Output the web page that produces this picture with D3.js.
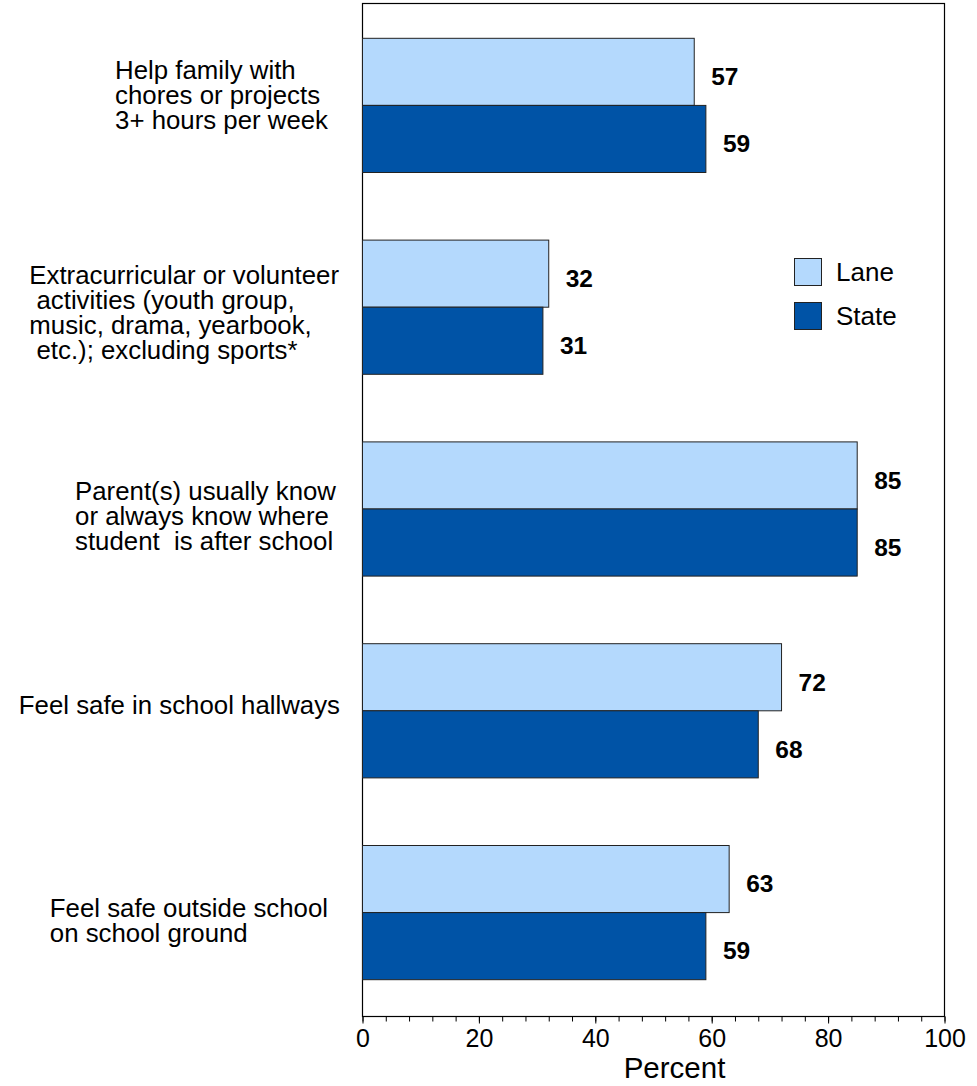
<!DOCTYPE html>
<html><head><meta charset="utf-8">
<script src="https://cdn.jsdelivr.net/npm/d3@7"></script>
<style>body{margin:0;background:#fff}svg{display:block;font-family:Arial,"Liberation Sans",sans-serif}</style>
</head><body>
<svg id="c" width="977" height="1086"></svg>
<script>
const categories = [
  ["Help family with","chores or projects","3+ hours per week"],
  ["Extracurricular or volunteer"," activities (youth group,","music, drama, yearbook,"," etc.); excluding sports*"],
  ["Parent(s) usually know","or always know where","student  is after school"],
  ["Feel safe in school hallways"],
  ["Feel safe outside school","on school ground"]
];
const seriesNames = ["Lane","State"];
const laneValues = [57,32,85,72,63];
const stateValues = [59,31,85,68,59];
const xTicks = [0,20,40,60,80,100];
const colors = {Lane:"#b4d9fd", State:"#0053a6"};
// layout: vertical nudge and right edge of each category label block
const labelNudge = [-10,5,7,-6,8];
const labelRight = [328,339,336,340,328];

const FONT = "Arial,'Liberation Sans',sans-serif";
const svg = d3.select("#c");
const L=362.5, R=944.5, T=3.5, B=1016.5;
const x = d3.scaleLinear().domain([0,100]).range([L,R]);
const y = d3.scaleBand().domain(d3.range(categories.length)).range([4,1014]).paddingInner(0.335).paddingOuter(0.17);
const ys = d3.scaleBand().domain(seriesNames).range([0,y.bandwidth()]);

// frame
svg.append("rect").attr("x",L).attr("y",T).attr("width",R-L).attr("height",B-T)
  .attr("fill","none").attr("stroke","#000").attr("stroke-width",1.2);

const series = [{name:"Lane",vals:laneValues},{name:"State",vals:stateValues}];
series.forEach(s=>{
  const g = svg.append("g");
  g.selectAll("rect").data(s.vals).join("rect")
    .attr("x",x(0)).attr("y",(d,i)=>y(i)+ys(s.name))
    .attr("width",d=>x(d)-x(0)).attr("height",ys.bandwidth())
    .attr("fill",colors[s.name]).attr("stroke","#222").attr("stroke-width",1);
  g.selectAll("text").data(s.vals).join("text")
    .attr("x",d=>x(d)+17).attr("y",(d,i)=>y(i)+ys(s.name)+ys.bandwidth()/2+4.5)
    .attr("dy","0.36em").attr("font-size",24.5).attr("font-weight","bold").text(d=>d);
});

// axis
const ax = svg.append("g").attr("transform",`translate(0,${B})`);
ax.call(d3.axisBottom(x).tickValues(d3.range(0,101,4)).tickSize(5).tickFormat(""));
ax.call(g=>g.select(".domain").remove());
const ax2 = svg.append("g").attr("transform",`translate(0,${B})`)
  .call(d3.axisBottom(x).tickValues(xTicks).tickSize(7).tickPadding(6).tickFormat(d3.format("d")));
ax2.select(".domain").remove();
ax2.selectAll("text").attr("font-size",25).attr("fill","#000").attr("font-family",FONT);
svg.selectAll(".tick line").attr("stroke","#000");
svg.append("line").attr("x1",L).attr("x2",R).attr("y1",B).attr("y2",B).attr("stroke","#000").attr("stroke-width",1.2);
svg.append("text").attr("x",(L+R)/2+21).attr("y",1078).attr("text-anchor","middle").attr("font-size",29.5).text("Percent");

// category labels
const lh = 25;
categories.forEach((lines,i)=>{
  const cy = y(i)+y.bandwidth()/2 + labelNudge[i];
  const t = svg.append("text").attr("font-size",25.8);
  lines.forEach((ln,j)=>{
    t.append("tspan").attr("x",0).attr("y",cy+(j-(lines.length-1)/2)*lh).attr("dy","0.35em")
      .attr("xml:space","preserve").style("white-space","pre").text(ln);
  });
  const w = d3.max(t.selectAll("tspan").nodes(),n=>n.getComputedTextLength());
  t.selectAll("tspan").attr("x",labelRight[i]-w);
});

// legend
const lg = svg.append("g");
seriesNames.forEach((n,i)=>{
  lg.append("rect").attr("x",794.5).attr("y",258.5+i*44).attr("width",27).attr("height",27)
    .attr("fill",colors[n]).attr("stroke","#222").attr("stroke-width",1);
  lg.append("text").attr("x",836).attr("y",272+i*44).attr("dy","0.35em").attr("font-size",26).text(n);
});
</script>
</body></html>
